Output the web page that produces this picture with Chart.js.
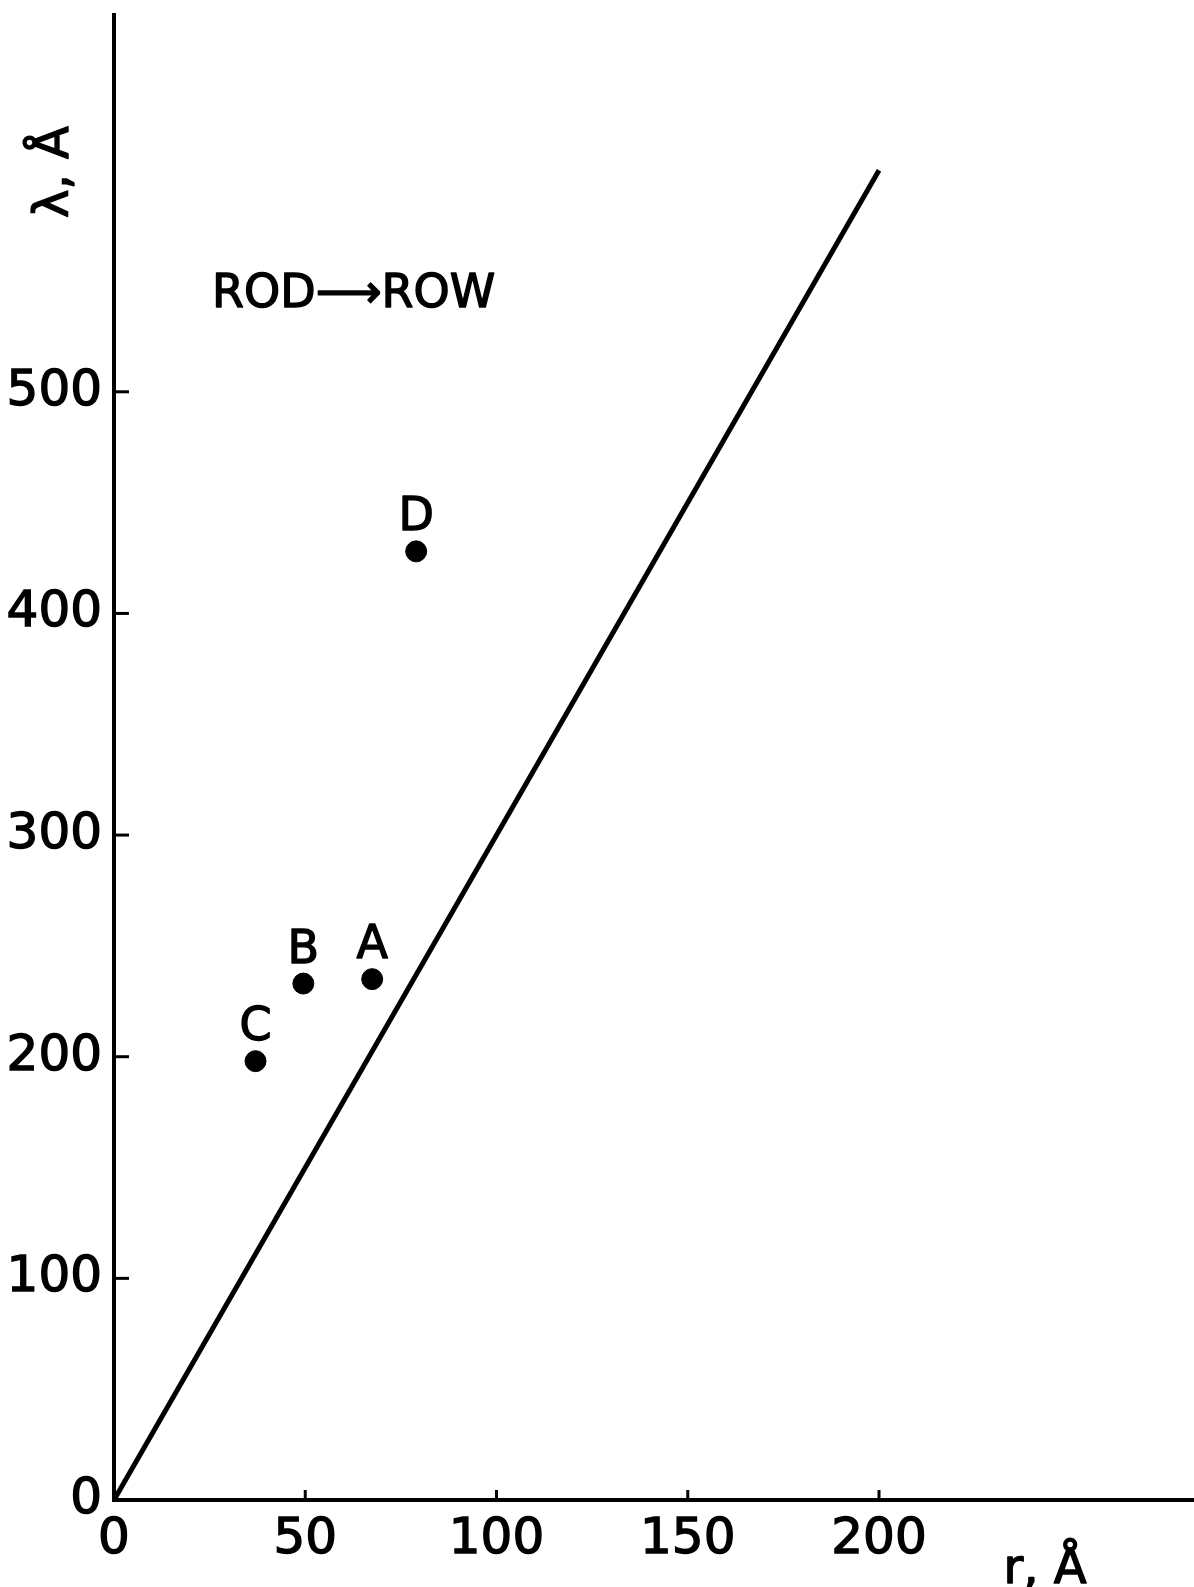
<!DOCTYPE html>
<html>
<head>
<meta charset="utf-8">
<script src="https://cdn.jsdelivr.net/npm/chart.js@4"></script>
<style>
  html, body { margin:0; padding:0; background:#fff; overflow:hidden; }
  #wrap { width:1194px; height:1587px; position:relative; }
</style>
</head>
<body>
<div id="wrap"><canvas id="rodChart"></canvas></div>
<script>
// data
const pointLabels = ["A", "B", "C", "D"];
const radiusValues = [67.5, 49.5, 37, 79];     // r, Å
const lambdaValues = [235, 233, 198, 428];     // λ, Å
const lineR = [0, 200];                        // λ = 3r reference line
const lineLambda = [0, 600];
const xTicks = [0, 50, 100, 150, 200];
const yTicks = [0, 100, 200, 300, 400, 500];

const FONT = '"DejaVu Sans"';
const INK = "#000";
const PEN = 1.4;   // extra stroke so the lettering looks like the stencil ink

/* ---------- inner tick marks (ticks point into the plot) ---------- */
const innerTicks = {
  id: "innerTicks",
  afterDraw(chart) {
    const {ctx, scales: {x, y}} = chart;
    ctx.save();
    ctx.strokeStyle = INK;
    ctx.lineCap = "butt";
    ctx.lineWidth = 3;
    yTicks.forEach(v => {
      if (v === 0) return;
      const py = y.getPixelForValue(v);
      ctx.beginPath();
      ctx.moveTo(x.left, py);
      ctx.lineTo(x.left + 15, py);
      ctx.stroke();
    });
    xTicks.forEach(v => {
      if (v === 0) return;
      const px = x.getPixelForValue(v);
      ctx.beginPath();
      ctx.moveTo(px, y.bottom);
      ctx.lineTo(px, y.bottom - 10);
      ctx.stroke();
    });
    ctx.restore();
  }
};

function inkText(ctx, txt, x, y) {
  ctx.fillText(txt, x, y);
  ctx.strokeText(txt, x, y);
}

/* ---------- titles, point letters, annotation ---------- */
const textLayer = {
  id: "textLayer",
  afterDraw(chart) {
    const {ctx} = chart;
    ctx.save();
    ctx.fillStyle = INK;
    ctx.strokeStyle = INK;
    ctx.lineWidth = PEN;
    ctx.lineJoin = "round";

    // letters above each point
    ctx.font = `46px ${FONT}`;
    ctx.textAlign = "center";
    ctx.textBaseline = "alphabetic";
    chart.getDatasetMeta(1).data.forEach((pt, i) => {
      inkText(ctx, pointLabels[i], pt.x, pt.y - 21);
    });

    // ROD -> ROW
    ctx.font = `46px ${FONT}`;
    ctx.textAlign = "left";
    inkText(ctx, "ROD\u27F6ROW", 212, 307);

    // x axis title
    ctx.font = `48px ${FONT}`;
    ctx.textAlign = "center";
    inkText(ctx, "r, Å", 1045, 1583);

    // y axis title, rotated
    ctx.translate(68, 172);
    ctx.rotate(-Math.PI / 2);
    inkText(ctx, "λ, Å", 0, 0);
    ctx.restore();
  }
};

// drop the label half-size padding Chart.js adds round the plot area
const noPad = s => { s.paddingTop = 0; s.paddingBottom = 0; s.paddingLeft = 0; s.paddingRight = 0; };

const ctx = document.getElementById("rodChart").getContext("2d");

const chart = new Chart(ctx, {
  type: "scatter",
  data: {
    datasets: [
      {
        type: "line",
        data: lineR.map((r, i) => ({x: r, y: lineLambda[i]})),
        borderColor: INK,
        borderWidth: 5,
        pointRadius: 0,
        fill: false,
        tension: 0
      },
      {
        data: radiusValues.map((r, i) => ({x: r, y: lambdaValues[i]})),
        backgroundColor: INK,
        borderColor: INK,
        pointRadius: 10.5,
        pointHoverRadius: 10.5
      }
    ]
  },
  options: {
    responsive: true,
    maintainAspectRatio: false,
    animation: false,
    devicePixelRatio: 1,
    layout: { autoPadding: false, padding: { top: 15, left: 0, right: 0, bottom: 0 } },
    plugins: { legend: { display: false }, tooltip: { enabled: false } },
    scales: {
      x: {
        type: "linear",
        min: 0,
        max: 282.35,
        afterFit: s => { s.height = 87; noPad(s); },
        afterBuildTicks: s => { s.ticks = xTicks.map(v => ({value: v})); },
        grid: { display: false, drawTicks: false },
        border: { display: true, color: INK, width: 4 },
        ticks: {
          color: INK, font: { family: FONT, size: 50 }, padding: 10,
          maxRotation: 0, autoSkip: false, textStrokeColor: INK, textStrokeWidth: PEN
        }
      },
      y: {
        type: "linear",
        min: 0,
        max: 670,
        afterFit: s => { s.width = 114; noPad(s); },
        afterBuildTicks: s => { s.ticks = yTicks.map(v => ({value: v})); },
        grid: { display: false, drawTicks: false },
        border: { display: true, color: INK, width: 4 },
        ticks: {
          color: INK, font: { family: FONT, size: 50 }, padding: 12,
          autoSkip: false, textStrokeColor: INK, textStrokeWidth: PEN
        }
      }
    }
  },
  plugins: [innerTicks, textLayer]
});
</script>
</body>
</html>
